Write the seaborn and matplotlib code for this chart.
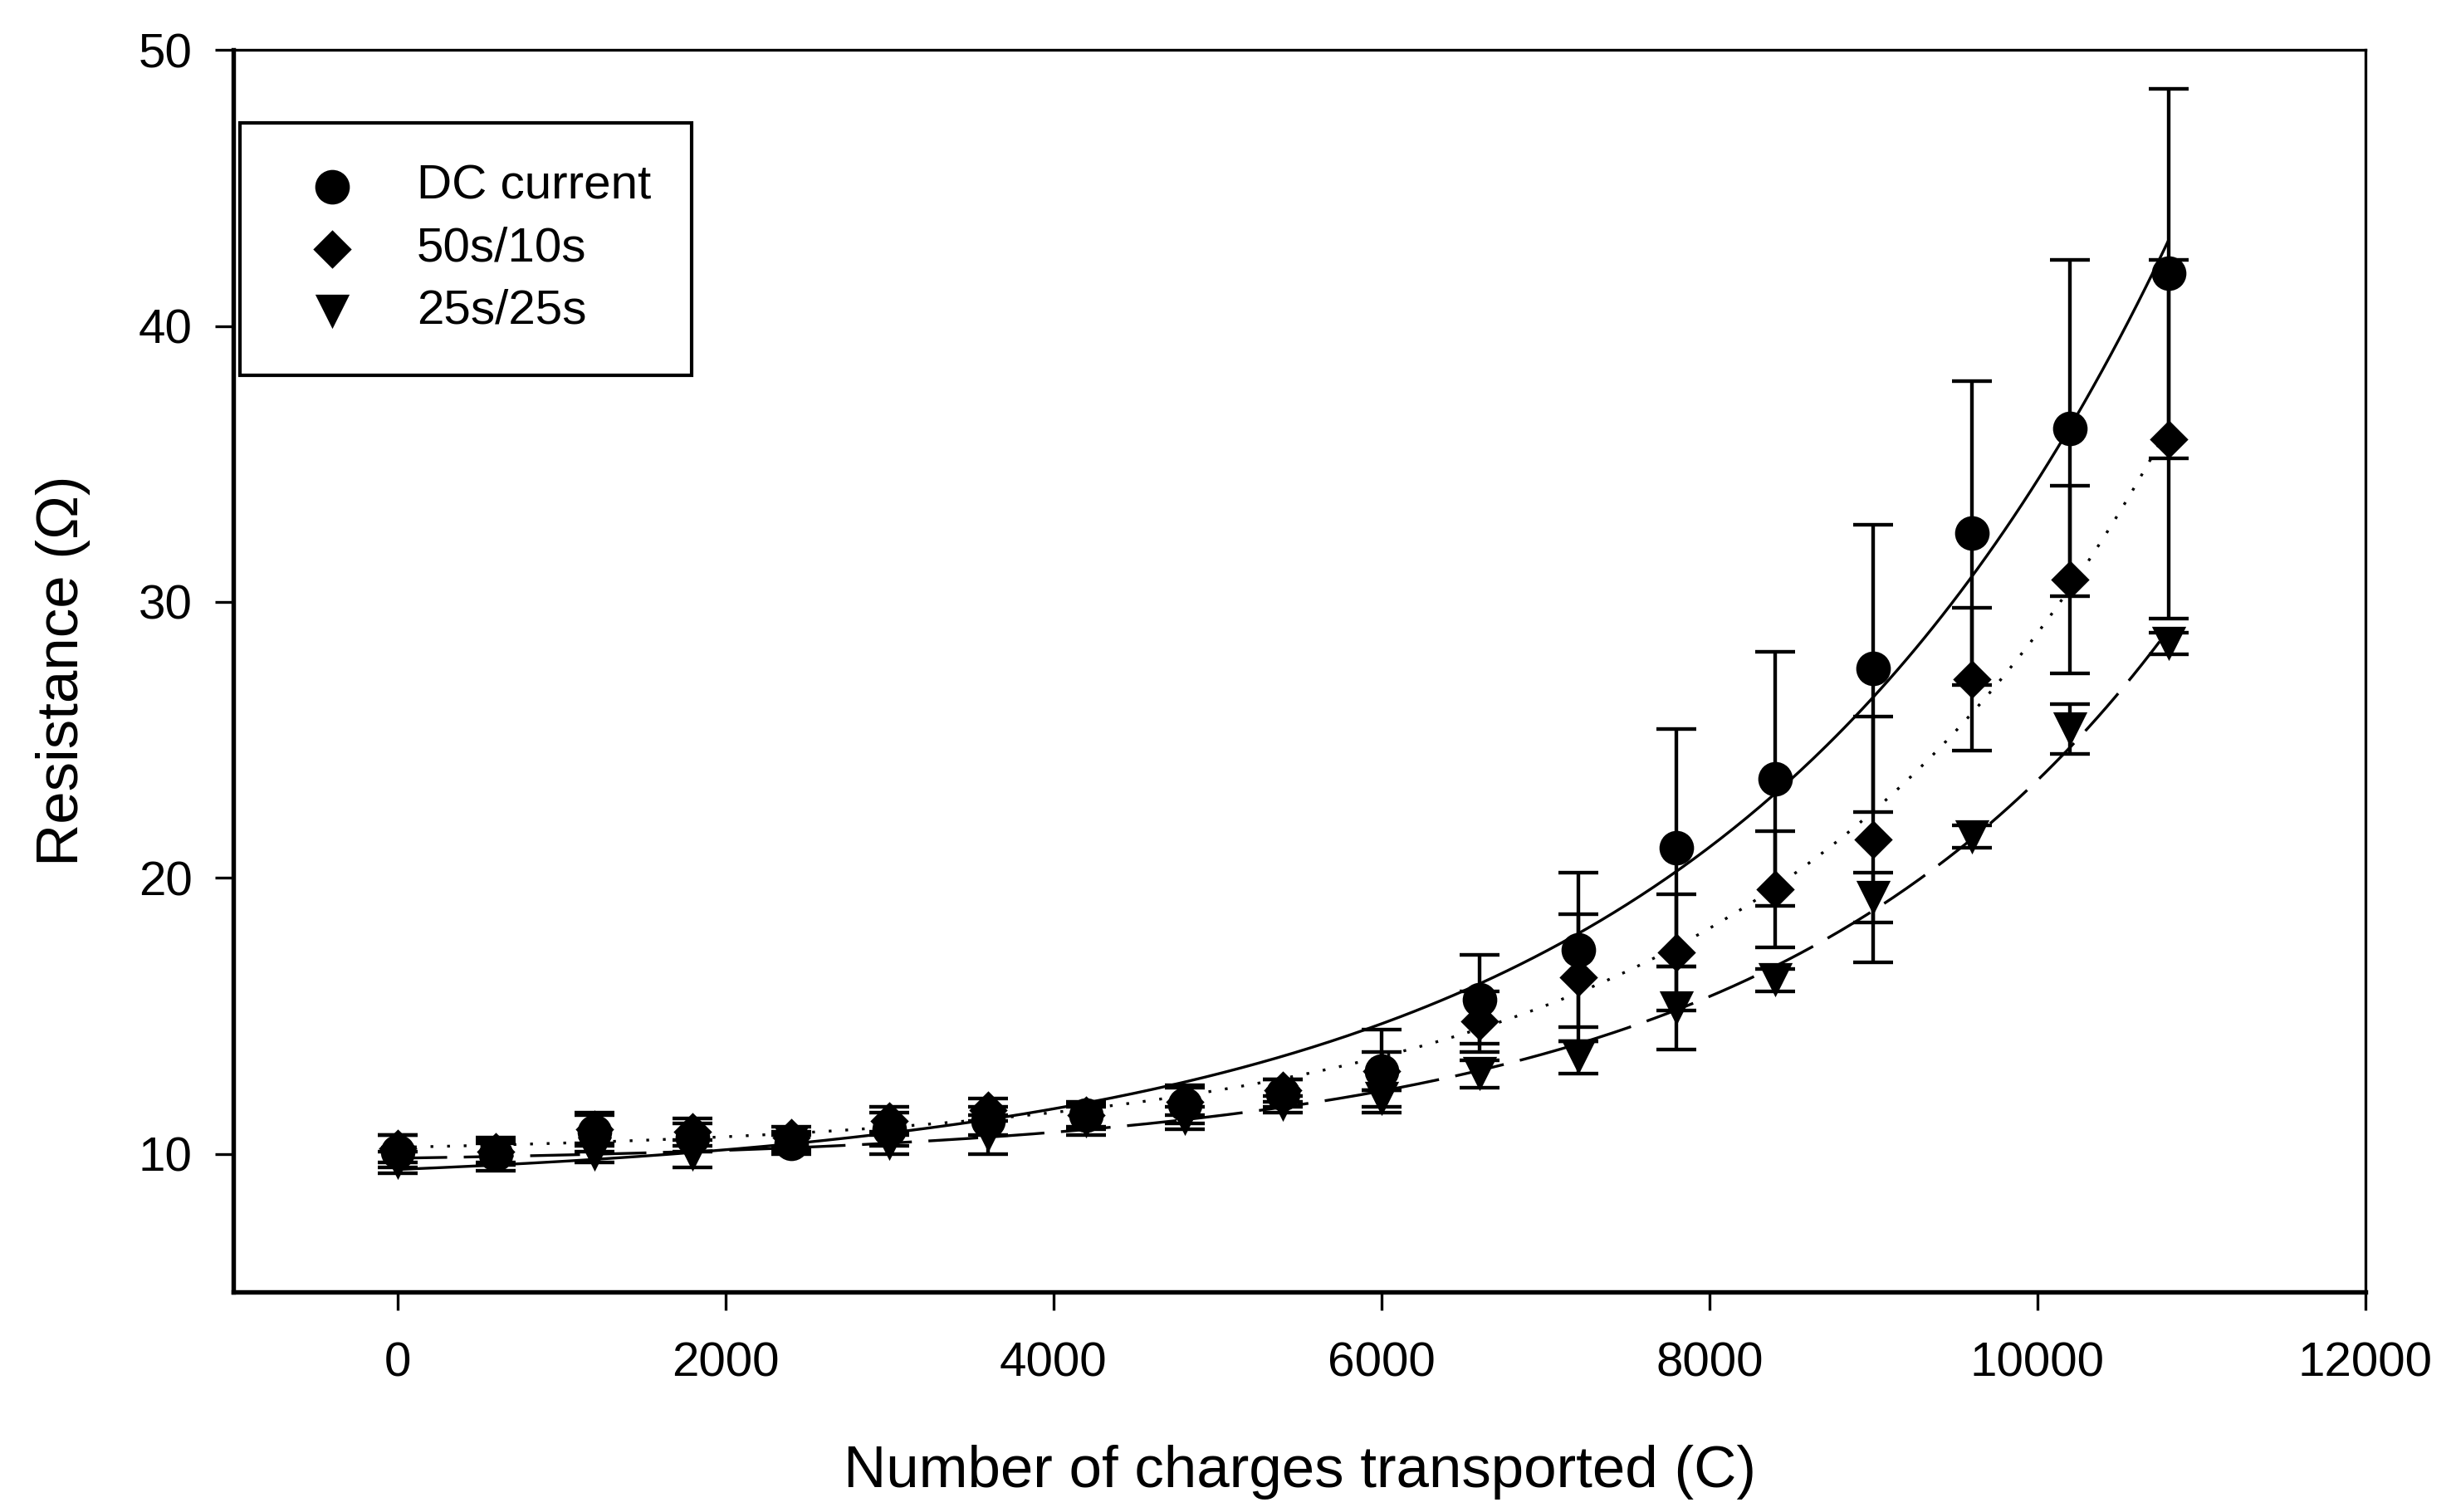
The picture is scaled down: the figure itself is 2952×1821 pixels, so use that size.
import numpy as np
import pandas as pd
import matplotlib
matplotlib.use('Agg')
import matplotlib.pyplot as plt
import seaborn as sns

# data
charge = [0, 600, 1200, 1800, 2400, 3000, 3600, 4200, 4800, 5400,
          6000, 6600, 7200, 7800, 8400, 9000, 9600, 10200, 10800]

dc_mean = [10.1, 10.0, 10.8, 10.6, 10.4, 10.9, 11.2, 11.4, 11.8, 12.2,
           13.0, 15.6, 17.4, 21.1, 23.6, 27.6, 32.5, 36.3, 41.9]
dc_err = [0.6, 0.6, 0.7, 0.5, 0.4, 0.6, 0.5, 0.5, 0.7, 0.5,
          1.5, 1.6, 2.8, 4.3, 4.6, 5.2, 5.5, 6.1, 6.7]

p50_mean = [10.2, 10.1, 10.9, 10.8, 10.6, 11.2, 11.6, 11.4, 11.9, 12.3,
            13.0, 14.8, 16.4, 17.3, 19.6, 21.4, 27.2, 30.8, 35.9]
p50_err = [0.5, 0.4, 0.5, 0.5, 0.4, 0.5, 0.4, 0.4, 0.5, 0.4,
           0.7, 1.1, 2.3, 2.1, 2.1, 4.45, 2.6, 3.4, 6.5]

p25_mean = [9.7, 10.0, 10.0, 10.0, 10.4, 10.4, 10.7, 11.2, 11.3, 11.8,
            12.0, 12.9, 13.5, 15.3, 16.3, 19.3, 21.5, 25.4, 28.5]
p25_err = [0.4, 0.4, 0.3, 0.5, 0.3, 0.4, 0.7, 0.5, 0.4, 0.3,
           0.3, 0.5, 0.6, 1.5, 0.4, 0.9, 0.4, 0.9, 0.4]

series_names = ['DC current', '50s/10s', '25s/25s']
x_ticks = [0, 2000, 4000, 6000, 8000, 10000, 12000]
y_ticks = [10, 20, 30, 40, 50]

means = [dc_mean, p50_mean, p25_mean]
errs = [dc_err, p50_err, p25_err]

df = pd.concat([
    pd.DataFrame({'charge': charge, 'R': m, 'err': e, 'series': n})
    for n, m, e in zip(series_names, means, errs)
], ignore_index=True)


def fit_exp(x, y):
    # 3-parameter exponential growth y = c + a*exp(b*x), least squares over b
    x = np.asarray(x, float)
    y = np.asarray(y, float)
    best = None
    for b in np.linspace(5e-5, 1e-3, 2000):
        A = np.column_stack([np.ones_like(x), np.exp(b * x)])
        coef, res, _, _ = np.linalg.lstsq(A, y, rcond=None)
        sse = np.sum((A @ coef - y) ** 2)
        if best is None or sse < best[0]:
            best = (sse, coef[0], coef[1], b)
    return best[1:]


sns.set_style('ticks')
plt.rcParams['font.family'] = ['Liberation Sans', 'DejaVu Sans']
plt.rcParams['text.color'] = 'black'
plt.rcParams['axes.labelcolor'] = 'black'

fig = plt.figure(figsize=(9.84, 6.07), dpi=300)
ax = fig.add_axes([0.0952, 0.1455, 0.8699, 0.8215])

markers = {'DC current': 'o', '50s/10s': 'D', '25s/25s': 'v'}
sizes = {'DC current': 100, '50s/10s': 62, '25s/25s': 98}
linestyles = {'DC current': '-', '50s/10s': (0, (1, 5)), '25s/25s': (0, (18, 6))}

# fitted curves
xf = np.linspace(0, 10800, 400)
for n in series_names:
    sub = df[df['series'] == n]
    c, a, b = fit_exp(sub['charge'], sub['R'])
    sns.lineplot(x=xf, y=c + a * np.exp(b * xf), ax=ax, color='black',
                 linewidth=0.8, linestyle=linestyles[n], zorder=2, legend=False)

# error bars
for n in series_names:
    sub = df[df['series'] == n]
    ax.errorbar(sub['charge'], sub['R'], yerr=sub['err'], fmt='none',
                ecolor='black', elinewidth=1.05, capsize=5.8, capthick=1.05, zorder=3)

# markers
for n in series_names:
    sub = df[df['series'] == n]
    sns.scatterplot(data=sub, x='charge', y='R', marker=markers[n], s=sizes[n],
                    color='black', edgecolor='black', linewidth=0, ax=ax,
                    zorder=4, label=n)

h, l = ax.get_legend_handles_labels()
leg = ax.legend(h, l, loc='upper left', bbox_to_anchor=(0.003, 0.941),
                borderaxespad=0, frameon=True, fancybox=False, fontsize=14,
                borderpad=0.85, labelspacing=0.36, handlelength=2.1,
                handletextpad=0.7, edgecolor='black', framealpha=1)
leg.get_frame().set_linewidth(1.0)
for t in leg.get_texts():
    t.set_color('black')

ax.set_xlim(-1000, 12000)
ax.set_ylim(5, 50)
ax.set_xticks(x_ticks)
ax.set_yticks(y_ticks)
ax.tick_params(direction='out', length=5.3, width=0.8, labelsize=14, pad=9,
               colors='black')
ax.tick_params(axis='y', pad=6.5)
for side, lw in [('left', 1.3), ('bottom', 1.3), ('top', 0.8), ('right', 0.8)]:
    ax.spines[side].set_visible(True)
    ax.spines[side].set_linewidth(lw)
    ax.spines[side].set_color('black')

ax.set_xlabel('Number of charges transported (C)', fontsize=17, labelpad=17,
              color='black')
ax.set_ylabel('Resistance (Ω)', fontsize=17, labelpad=14, color='black')

fig.savefig('out.png', dpi=300, facecolor='white')
